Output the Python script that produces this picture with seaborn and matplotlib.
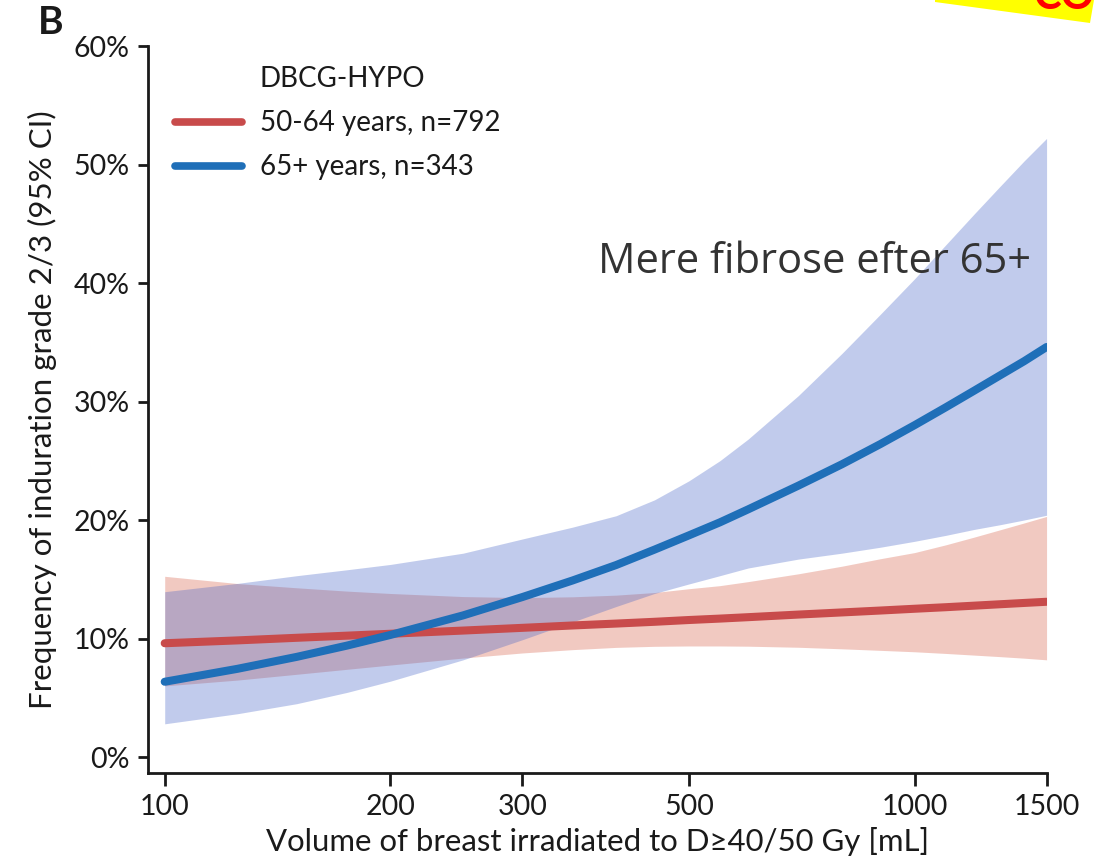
import numpy as np
import pandas as pd
import matplotlib
matplotlib.use("Agg")
import matplotlib.pyplot as plt
import seaborn as sns
from matplotlib.lines import Line2D
from matplotlib.patches import Polygon

# ---------------- data ----------------
volume = [100, 125, 150, 175, 200, 250, 300, 350, 400, 450, 500, 550,
          600, 700, 800, 900, 1000, 1100, 1200, 1300, 1400, 1500]

# 50-64 years (red)
red_mid = [9.6, 9.84, 10.06, 10.24, 10.4, 10.67, 10.9, 11.1, 11.26, 11.41, 11.56, 11.68,
           11.8, 12.02, 12.2, 12.36, 12.51, 12.64, 12.77, 12.89, 13.0, 13.1]
red_lo  = [6.0, 6.49, 6.98, 7.4, 7.76, 8.35, 8.78, 9.06, 9.25, 9.34, 9.37, 9.37,
           9.35, 9.26, 9.13, 9.0, 8.88, 8.74, 8.6, 8.47, 8.34, 8.2]
red_hi  = [15.25, 14.64, 14.28, 14.0, 13.8, 13.54, 13.45, 13.52, 13.66, 13.88, 14.2, 14.46,
           14.8, 15.46, 16.1, 16.73, 17.25, 17.9, 18.55, 19.17, 19.75, 20.3]

# 65+ years (blue)
blue_mid = [6.35, 7.44, 8.45, 9.4, 10.3, 11.95, 13.5, 14.9, 16.2, 17.5, 18.7, 19.8,
            20.9, 22.9, 24.7, 26.4, 28.0, 29.5, 30.9, 32.2, 33.4, 34.6]
blue_lo  = [2.8, 3.65, 4.5, 5.45, 6.4, 8.2, 9.9, 11.4, 12.7, 13.8, 14.6, 15.3,
            15.95, 16.7, 17.2, 17.7, 18.2, 18.7, 19.2, 19.6, 20.0, 20.4]
blue_hi  = [13.95, 14.65, 15.3, 15.8, 16.25, 17.2, 18.4, 19.4, 20.36, 21.7, 23.3, 25.0,
            26.83, 30.5, 34.05, 37.35, 40.35, 43.2, 45.8, 48.15, 50.3, 52.2]

series_labels = ["50-64 years, n=792", "65+ years, n=343"]
legend_title = "DBCG-HYPO"
x_ticks = [100, 200, 300, 500, 1000, 1500]
y_ticks = [0, 10, 20, 30, 40, 50, 60]

# ---------------- style ----------------
sns.set_theme(style="ticks")
plt.rcParams['font.family'] = ['Lato', 'DejaVu Sans']
TXT = "#1a1a1a"
RED_LINE = "#C84B4B"
BLUE_LINE = "#1F6FB8"
RED_FILL = (0.86, 0.43, 0.35)
BLUE_FILL = (0.27, 0.39, 0.78)

df = pd.DataFrame({
    "volume": volume * 2,
    "freq": red_mid + blue_mid,
    "group": [series_labels[0]] * len(volume) + [series_labels[1]] * len(volume),
})

fig = plt.figure(figsize=(11.14, 8.63), dpi=100)
ax = fig.add_axes([148 / 1114, 1 - 773 / 863, 899 / 1114, 727 / 863])

ax.fill_between(volume, red_lo, red_hi, color=RED_FILL, alpha=0.37, lw=0, zorder=1)
ax.fill_between(volume, blue_lo, blue_hi, color=BLUE_FILL, alpha=0.33, lw=0, zorder=2)

sns.lineplot(data=df, x="volume", y="freq", hue="group",
             palette={series_labels[0]: RED_LINE, series_labels[1]: BLUE_LINE},
             linewidth=5.8, ax=ax, legend=False, zorder=3)

ax.set_xscale("log")
ax.set_xlim(95, 1502)
ax.set_ylim(-1.35, 60)
ax.set_xticks(x_ticks)
ax.set_xticklabels([str(t) for t in x_ticks])
ax.xaxis.set_minor_locator(matplotlib.ticker.NullLocator())
ax.set_yticks(y_ticks)
ax.set_yticklabels([f"{t}%" for t in y_ticks])

for s in ["top", "right"]:
    ax.spines[s].set_visible(False)
for s in ["left", "bottom"]:
    ax.spines[s].set_linewidth(2)
    ax.spines[s].set_color(TXT)

ax.tick_params(axis="y", length=7, width=2, color=TXT, labelsize=20.5, labelcolor=TXT, pad=6)
ax.tick_params(axis="x", length=9, width=2, color=TXT, labelsize=20.5, labelcolor=TXT, pad=6)

ax.set_xlabel("Volume of breast irradiated to D≥40/50 Gy [mL]", fontsize=22.4, color=TXT, labelpad=5)
ax.set_ylabel("Frequency of induration grade 2/3 (95% CI)", fontsize=22.5, color=TXT, labelpad=12)

handles = [Line2D([], [], color="none", lw=0),
           Line2D([], [], color=RED_LINE, lw=5.5),
           Line2D([], [], color=BLUE_LINE, lw=5.5)]
leg = ax.legend(handles, [legend_title] + series_labels, loc="upper left",
                bbox_to_anchor=(0.03, 0.972), frameon=False, fontsize=20,
                borderpad=0, borderaxespad=0, handlelength=2.4,
                handletextpad=0.65, labelspacing=0.65)
for t in leg.get_texts():
    t.set_color(TXT)

ax.text(0.982, 0.703, "Mere fibrose efter 65+", transform=ax.transAxes,
        ha="right", va="center", fontsize=30, color="#333333",
        family=["Open Sans", "DejaVu Sans"])

fig.text(38 / 1114, 1 - 23 / 863, "B", fontsize=28, fontweight="bold",
         color=TXT, va="center", ha="left")

# yellow highlight fragment at the top right corner
poly = Polygon([[935 / 1114, 1.0], [935 / 1114, 1 - 2 / 863],
                [1090 / 1114, 1 - 23 / 863], [1094 / 1114, 1.0]],
               closed=True, transform=fig.transFigure, color="#FFFF00", lw=0)
fig.patches.append(poly)
fig.text(1064 / 1114, 1 - 16 / 863, "CO", fontsize=30, fontweight="bold",
         color="#FF0000", ha="center", va="bottom")

fig.savefig("out.png", dpi=100)
